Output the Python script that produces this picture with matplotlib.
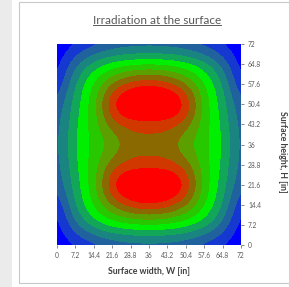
import numpy as np
import matplotlib
matplotlib.use("Agg")
from matplotlib import pyplot as plt
from matplotlib.colors import ListedColormap, BoundaryNorm
from matplotlib.lines import Line2D
from matplotlib.patches import Rectangle

# grid positions (inches) and irradiation level
width_in = [0, 7.2, 14.4, 21.6, 28.8, 36, 43.2, 50.4, 57.6, 64.8, 72]
height_in = [0, 7.2, 14.4, 21.6, 28.8, 36, 43.2, 50.4, 57.6, 64.8, 72]
tick_labels = ['0', '7.2', '14.4', '21.6', '28.8', '36', '43.2', '50.4', '57.6', '64.8', '72']

row_0 = [0.2, 0.8, 1.4, 2.0, 2.2, 2.3, 2.2, 2.0, 1.4, 0.8, 0.2]
row_7 = [0.4, 2.9, 4.6, 5.4, 5.8, 5.9, 5.8, 5.4, 4.6, 2.9, 0.4]
row_14 = [0.9, 4.2, 6.2, 8.3, 9.7, 10.2, 9.7, 8.3, 6.2, 4.2, 0.9]
row_21 = [2.1, 4.6, 6.5, 10.5, 12.2, 12.6, 12.2, 10.5, 6.5, 4.6, 2.1]
row_28 = [2.4, 4.9, 6.4, 8.6, 9.3, 9.1, 9.3, 8.6, 6.4, 4.9, 2.4]
row_36 = [2.5, 5.2, 6.3, 7.0, 8.4, 8.7, 8.4, 7.0, 6.3, 5.2, 2.5]
row_43 = [2.4, 4.9, 6.4, 8.6, 9.3, 9.1, 9.3, 8.6, 6.4, 4.9, 2.4]
row_50 = [2.1, 4.6, 6.5, 10.5, 12.2, 12.6, 12.2, 10.5, 6.5, 4.6, 2.1]
row_57 = [0.9, 4.2, 6.2, 8.3, 9.7, 10.2, 9.7, 8.3, 6.2, 4.2, 0.9]
row_64 = [0.4, 2.9, 4.6, 5.4, 5.8, 5.9, 5.8, 5.4, 4.6, 2.9, 0.4]
row_72 = [0.2, 0.8, 1.4, 2.0, 2.2, 2.3, 2.2, 2.0, 1.4, 0.8, 0.2]

Z = np.array([row_0, row_7, row_14, row_21, row_28, row_36,
              row_43, row_50, row_57, row_64, row_72])

band_colors = ['#0000ff', '#1438d0', '#1f629e', '#1a8480', '#12a658',
               '#00ee00', '#28c800', '#5ca000', '#8a6a00', '#d03800', '#ff0000']
bounds = [-10, 1, 2, 3, 4, 5, 6, 7, 8, 9, 10, 20]

grey = '#595959'
plt.rcParams['font.family'] = ['Lato', 'DejaVu Sans']

fig = plt.figure(figsize=(2.89, 2.87), dpi=100)
fig.patches.append(Rectangle((0, 0), 12 / 289, 1, transform=fig.transFigure,
                             facecolor='#ebebeb', edgecolor='none', zorder=-2))
fig.patches.append(Rectangle((19 / 289, 4 / 287), 1, 281 / 287, transform=fig.transFigure,
                             facecolor='white', edgecolor='#c8c8c8', lw=0.8, zorder=-2))

ax = fig.add_axes([57 / 289, 1 - 245 / 287, 184 / 289, 201 / 287])
ax.set_zorder(1)
ax.patch.set_alpha(0)
step = width_in[1] - width_in[0]
ax.imshow(Z, origin='lower', aspect='auto',
          extent=[width_in[0] - step / 2, width_in[-1] + step / 2,
                  height_in[0] - step / 2, height_in[-1] + step / 2],
          cmap=ListedColormap(band_colors), norm=BoundaryNorm(bounds, len(band_colors)),
          interpolation='bicubic', interpolation_stage='data')
ax.set_xlim(0, 72)
ax.set_ylim(0, 72)

ax.set_xticks(width_in)
ax.set_xticklabels(tick_labels)
ax.yaxis.tick_right()
ax.set_yticks(height_in)
ax.set_yticklabels(tick_labels)
ax.tick_params(labelsize=4.8, colors=grey, length=2.5, width=0.5, pad=2.5)
for s in ax.spines.values():
    s.set_visible(False)

ax.set_xlabel('Surface width, W [in]', fontsize=6.3, fontweight='bold',
              color='#404040', labelpad=6)
fig.text(282 / 289, 0.47, 'Surface height, H [in]', rotation=-90, fontsize=6.3,
         fontweight='bold', color='#404040', ha='center', va='center')

title = fig.text(157 / 289, 1 - 20 / 287, 'Irradiation at the surface', fontsize=8.5,
                 color=grey, ha='center', va='center')
fig.canvas.draw()
bb = title.get_window_extent().transformed(fig.transFigure.inverted())
fig.lines.append(Line2D([bb.x0, bb.x1], [bb.y0 + 0.002, bb.y0 + 0.002],
                        transform=fig.transFigure, color=grey, lw=0.7))

fig.savefig('out.png', dpi=100)
